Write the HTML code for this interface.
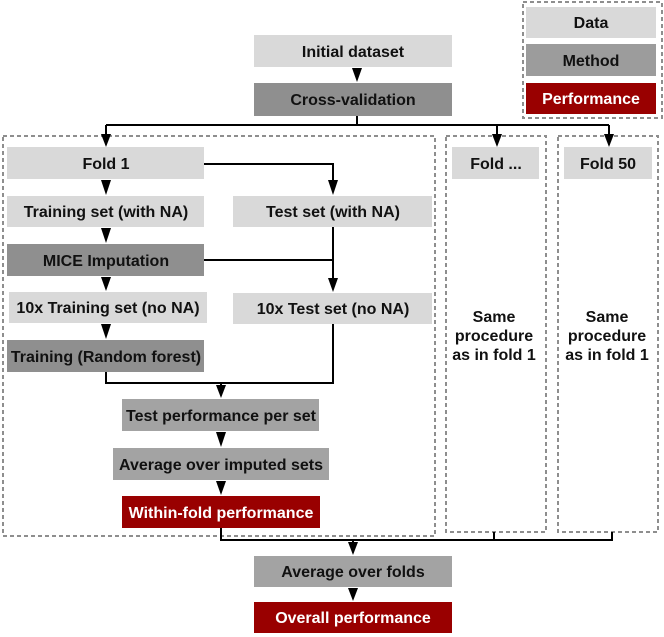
<!DOCTYPE html>
<html>
<head>
<meta charset="utf-8">
<style>
  html,body{margin:0;padding:0;background:#fff;}
  svg{display:block;}
  text{font-family:"Liberation Sans",Arial,sans-serif;font-weight:bold;font-size:16px;text-anchor:middle;}
</style>
</head>
<body>
<svg width="664" height="637" viewBox="0 0 664 637" xmlns="http://www.w3.org/2000/svg">
  <rect x="0" y="0" width="664" height="637" fill="#fff"/>

  <!-- dashed containers -->
  <g fill="none" stroke="#8e8e8e" stroke-width="2" stroke-dasharray="4,3">
    <rect x="523" y="2" width="139" height="116"/>
    <rect x="3" y="136" width="432" height="400"/>
    <rect x="446" y="136" width="100" height="396"/>
    <rect x="558" y="136" width="100" height="396"/>
  </g>

  <!-- legend -->
  <rect x="526" y="7" width="130" height="31" fill="#d9d9d9"/>
  <text x="591" y="28" fill="#111">Data</text>
  <rect x="526" y="44" width="130" height="32" fill="#9c9c9c"/>
  <text x="591" y="66" fill="#111">Method</text>
  <rect x="526" y="83" width="130" height="31" fill="#990000"/>
  <text x="591" y="104" fill="#fff">Performance</text>

  <!-- top -->
  <rect x="254" y="35" width="198" height="32" fill="#d9d9d9"/>
  <text x="353" y="57" fill="#111">Initial dataset</text>
  <rect x="254" y="83" width="198" height="33" fill="#8f8f8f"/>
  <text x="353" y="105" fill="#111">Cross-validation</text>

  <!-- fold headers -->
  <rect x="7" y="147" width="197" height="32" fill="#d9d9d9"/>
  <text x="106" y="169" fill="#111">Fold 1</text>
  <rect x="452" y="147" width="87" height="32" fill="#d9d9d9"/>
  <text x="496" y="169" fill="#111">Fold ...</text>
  <rect x="564" y="147" width="88" height="32" fill="#d9d9d9"/>
  <text x="608" y="169" fill="#111">Fold 50</text>

  <!-- fold 1 left column -->
  <rect x="7" y="196" width="197" height="31" fill="#d9d9d9"/>
  <text x="106" y="217" fill="#111">Training set (with NA)</text>
  <rect x="7" y="244" width="197" height="32" fill="#8f8f8f"/>
  <text x="106" y="266" fill="#111">MICE Imputation</text>
  <rect x="9" y="292" width="198" height="31" fill="#d9d9d9"/>
  <text x="108" y="313" fill="#111">10x Training set (no NA)</text>
  <rect x="7" y="340" width="197" height="32" fill="#8f8f8f"/>
  <text x="106" y="362" fill="#111">Training (Random forest)</text>

  <!-- fold 1 right column -->
  <rect x="233" y="196" width="199" height="31" fill="#d9d9d9"/>
  <text x="333" y="217" fill="#111">Test set (with NA)</text>
  <rect x="233" y="293" width="199" height="31" fill="#d9d9d9"/>
  <text x="333" y="314" fill="#111">10x Test set (no NA)</text>

  <!-- fold 1 bottom -->
  <rect x="122" y="399" width="197" height="32" fill="#a3a3a3"/>
  <text x="221" y="421" fill="#111">Test performance per set</text>
  <rect x="113" y="448" width="216" height="32" fill="#a3a3a3"/>
  <text x="221" y="470" fill="#111">Average over imputed sets</text>
  <rect x="122" y="496" width="198" height="32" fill="#990000"/>
  <text x="221" y="518" fill="#fff">Within-fold performance</text>

  <!-- same procedure -->
  <text x="494" y="322" fill="#111">Same</text>
  <text x="494" y="341" fill="#111">procedure</text>
  <text x="494" y="360" fill="#111">as in fold 1</text>
  <text x="607" y="322" fill="#111">Same</text>
  <text x="607" y="341" fill="#111">procedure</text>
  <text x="607" y="360" fill="#111">as in fold 1</text>

  <!-- final -->
  <rect x="254" y="556" width="198" height="31" fill="#a3a3a3"/>
  <text x="353" y="577" fill="#111">Average over folds</text>
  <rect x="254" y="602" width="198" height="31" fill="#990000"/>
  <text x="353" y="623" fill="#fff">Overall performance</text>

  <!-- connectors -->
  <g fill="none" stroke="#000" stroke-width="2">
    <path d="M357 116 V125"/>
    <path d="M106 125 H609"/>
    <path d="M106 125 V136"/>
    <path d="M497 125 V136"/>
    <path d="M609 125 V136"/>
    <path d="M204 164 H333 V182"/>
    <path d="M333 227 V280"/>
    <path d="M204 260 H333"/>
    <path d="M333 324 V383 H106 V372"/>
    <path d="M221 383 V388"/>
    <path d="M221 528 V540 H612 V532"/>
    <path d="M494 532 V540"/>
    <path d="M353 540 V544"/>
  </g>

  <!-- arrowheads -->
  <g fill="#000">
    <polygon points="352,68 362,68 357,82"/>
    <polygon points="101,134 111,134 106,147"/>
    <polygon points="492,134 502,134 497,147"/>
    <polygon points="604,134 614,134 609,147"/>
    <polygon points="101,180 111,180 106,195"/>
    <polygon points="101,228 111,228 106,243"/>
    <polygon points="101,277 111,277 106,291"/>
    <polygon points="101,324 111,324 106,339"/>
    <polygon points="328,180 338,180 333,195"/>
    <polygon points="328,278 338,278 333,292"/>
    <polygon points="216,385 226,385 221,398"/>
    <polygon points="216,432 226,432 221,447"/>
    <polygon points="216,481 226,481 221,495"/>
    <polygon points="348,542 358,542 353,555"/>
    <polygon points="348,588 358,588 353,601"/>
  </g>
</svg>
</body>
</html>
